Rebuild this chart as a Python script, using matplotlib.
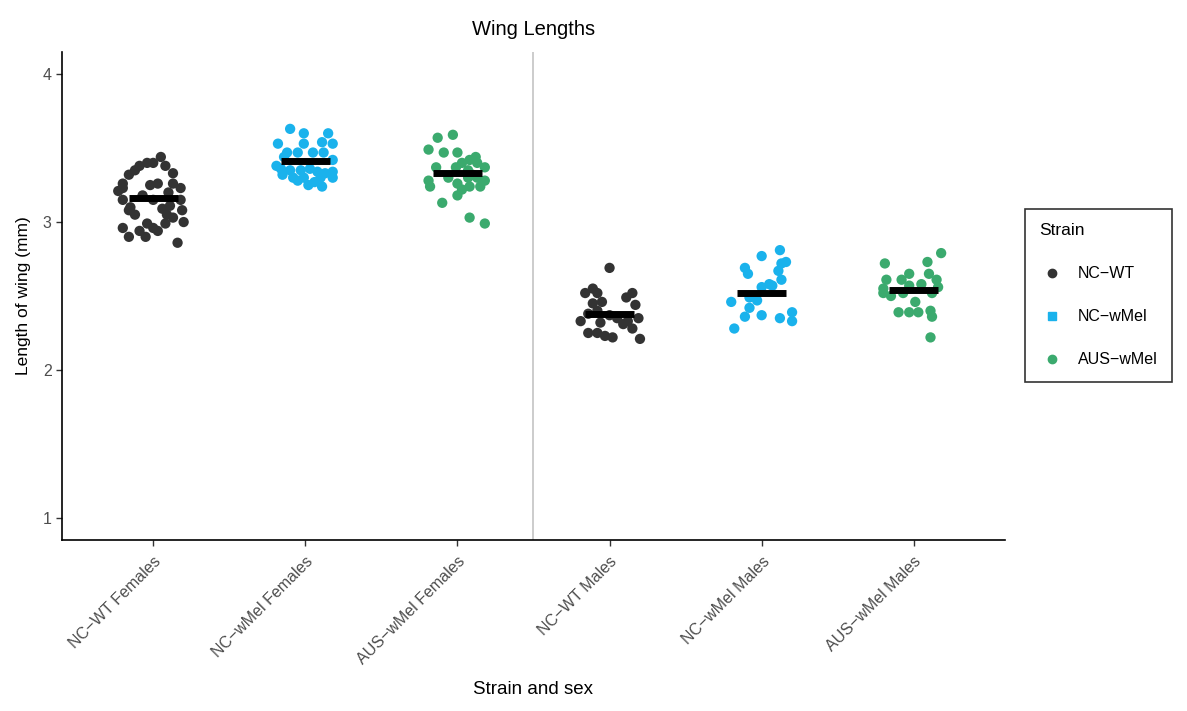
import matplotlib
matplotlib.use('Agg')
import matplotlib.pyplot as plt
from matplotlib.lines import Line2D
import numpy as np

plt.rcParams['font.family'] = ['Liberation Sans', 'DejaVu Sans']

groups = ["NC\u2212WT Females", "NC\u2212wMel Females", "AUS\u2212wMel Females",
          "NC\u2212WT Males", "NC\u2212wMel Males", "AUS\u2212wMel Males"]
group_strain = ["NC-WT", "NC-wMel", "AUS-wMel", "NC-WT", "NC-wMel", "AUS-wMel"]
strain_labels = ["NC\u2212WT", "NC\u2212wMel", "AUS\u2212wMel"]
strain_colors = {"NC-WT": "#333333", "NC-wMel": "#1AB2EC", "AUS-wMel": "#3BAA6E"}

# wing lengths (mm) and horizontal jitter
g1_y = [3.44, 3.40, 3.40, 3.38, 3.35, 3.32, 3.26, 3.23, 3.26, 3.26, 3.33, 3.23,
        3.15, 3.10, 3.08, 3.18, 3.15, 3.09, 3.11, 3.15, 3.08, 3.03, 3.05, 2.99,
        2.99, 2.96, 2.90, 2.94, 3.00, 2.96, 2.90, 2.86, 3.38, 3.25, 3.05, 2.94,
        3.20, 3.21]
g1_dx = [0.05, 0.00, -0.04, -0.09, -0.12, -0.16, -0.20, -0.20, 0.03, 0.13, 0.13, 0.18,
         -0.20, -0.15, -0.16, -0.07, 0.00, 0.06, 0.11, 0.18, 0.19, 0.13, 0.09, 0.08,
         -0.04, 0.00, -0.05, 0.03, 0.20, -0.20, -0.16, 0.16, 0.08, -0.02, -0.12, -0.09,
         0.10, -0.23]

g2_y = [3.63, 3.60, 3.60, 3.53, 3.53, 3.53, 3.54, 3.47, 3.47, 3.47, 3.47, 3.42,
        3.36, 3.35, 3.35, 3.36, 3.34, 3.34, 3.32, 3.30, 3.30, 3.30, 3.25, 3.30,
        3.24, 3.28, 3.38, 3.44, 3.33, 3.27]
g2_dx = [-0.10, -0.01, 0.15, 0.18, -0.01, -0.18, 0.11, -0.12, -0.05, 0.05, 0.12, 0.18,
         -0.16, -0.10, -0.03, 0.03, 0.08, 0.18, -0.15, -0.08, -0.01, 0.18, 0.02, 0.10,
         0.11, -0.05, -0.19, -0.14, 0.13, 0.06]

g3_y = [3.57, 3.59, 3.49, 3.47, 3.47, 3.42, 3.40, 3.40, 3.37, 3.37, 3.37, 3.30,
        3.30, 3.28, 3.28, 3.24, 3.26, 3.24, 3.24, 3.22, 3.18, 3.13, 3.03, 2.99,
        3.30, 3.35, 3.44, 3.32]
g3_dx = [-0.13, -0.03, -0.19, -0.09, 0.00, 0.08, 0.03, 0.13, 0.18, -0.14, -0.01, 0.07,
         0.13, 0.18, -0.19, -0.18, 0.00, 0.08, 0.15, 0.03, 0.00, -0.10, 0.08, 0.18,
         -0.06, 0.07, 0.12, 0.10]

g4_y = [2.69, 2.52, 2.55, 2.52, 2.49, 2.52, 2.45, 2.46, 2.44, 2.38, 2.40, 2.33,
        2.32, 2.33, 2.35, 2.25, 2.25, 2.23, 2.22, 2.28, 2.21, 2.35, 2.37, 2.31]
g4_dx = [0.00, -0.16, -0.11, -0.08, 0.11, 0.15, -0.11, -0.05, 0.17, -0.14, -0.08, -0.19,
         -0.06, 0.12, 0.19, -0.14, -0.08, -0.03, 0.02, 0.15, 0.20, 0.05, 0.00, 0.09]

g5_y = [2.77, 2.81, 2.72, 2.73, 2.69, 2.65, 2.67, 2.58, 2.61, 2.56, 2.49, 2.47,
        2.46, 2.42, 2.37, 2.36, 2.35, 2.39, 2.33, 2.28, 2.57]
g5_dx = [0.00, 0.12, 0.13, 0.16, -0.11, -0.09, 0.11, 0.05, 0.13, 0.00, -0.08, -0.03,
         -0.20, -0.08, 0.00, -0.11, 0.12, 0.20, 0.20, -0.18, 0.07]

g6_y = [2.79, 2.72, 2.73, 2.65, 2.65, 2.61, 2.61, 2.61, 2.55, 2.56, 2.57, 2.58,
        2.52, 2.52, 2.46, 2.39, 2.39, 2.39, 2.40, 2.36, 2.22, 2.50, 2.52]
g6_dx = [0.18, -0.19, 0.09, -0.03, 0.10, -0.18, -0.08, 0.15, -0.20, 0.16, -0.03, 0.05,
         -0.20, -0.07, 0.01, -0.10, -0.03, 0.03, 0.11, 0.12, 0.11, -0.15, 0.12]

group_means = [3.16, 3.41, 3.33, 2.38, 2.52, 2.54]

all_y = [g1_y, g2_y, g3_y, g4_y, g5_y, g6_y]
all_dx = [g1_dx, g2_dx, g3_dx, g4_dx, g5_dx, g6_dx]

fig = plt.figure(figsize=(11.87, 7.11), dpi=100)
ax = fig.add_axes([0.0522, 0.2405, 0.7945, 0.6864])

for i, (ys, dxs) in enumerate(zip(all_y, all_dx)):
    xs = (i + 1) + np.array(dxs)
    ax.scatter(xs, ys, s=55, color=strain_colors[group_strain[i]], edgecolors='none', zorder=2)
    # mean bar
    ax.hlines(group_means[i], i + 1 - 0.16, i + 1 + 0.16, color='black', linewidth=5, zorder=3)

# separator between females and males
ax.axvline(3.5, color='#BEBEBE', linewidth=1.1, zorder=1)

ax.set_xlim(0.4, 6.6)
ax.set_ylim(0.85, 4.15)
ax.set_yticks([1, 2, 3, 4])
ax.set_xticks(range(1, 7))
ax.set_xticklabels(groups, rotation=45, ha='right', va='top', rotation_mode='anchor')
ax.tick_params(axis='both', colors='#333333', labelcolor='#4D4D4D', labelsize=11.5, length=4, width=1)
ax.tick_params(axis='x', pad=6)

for s in ['top', 'right']:
    ax.spines[s].set_visible(False)
for s in ['left', 'bottom']:
    ax.spines[s].set_linewidth(1.2)
    ax.spines[s].set_color('black')

ax.set_title('Wing Lengths', fontsize=14.5, pad=12)
ax.set_xlabel('Strain and sex', fontsize=13.5, labelpad=10)
ax.set_ylabel('Length of wing (mm)', fontsize=12.5, labelpad=8)

handles = [
    Line2D([], [], marker='o', linestyle='none', color=strain_colors['NC-WT'], markersize=6),
    Line2D([], [], marker='s', linestyle='none', color=strain_colors['NC-wMel'], markersize=6),
    Line2D([], [], marker='o', linestyle='none', color=strain_colors['AUS-wMel'], markersize=6),
]
leg = fig.legend(handles, strain_labels, title='Strain', loc='upper left',
                 bbox_to_anchor=(1025 / 1187, 1 - 209 / 711), borderaxespad=0, frameon=True,
                 fontsize=11.5, title_fontsize=12.5, labelspacing=1.75, handletextpad=0.8,
                 handlelength=1.6, borderpad=0.9, fancybox=False, edgecolor='black')
leg._legend_box.align = 'left'
leg.get_frame().set_linewidth(1.2)

plt.savefig('out.png', dpi=100)
